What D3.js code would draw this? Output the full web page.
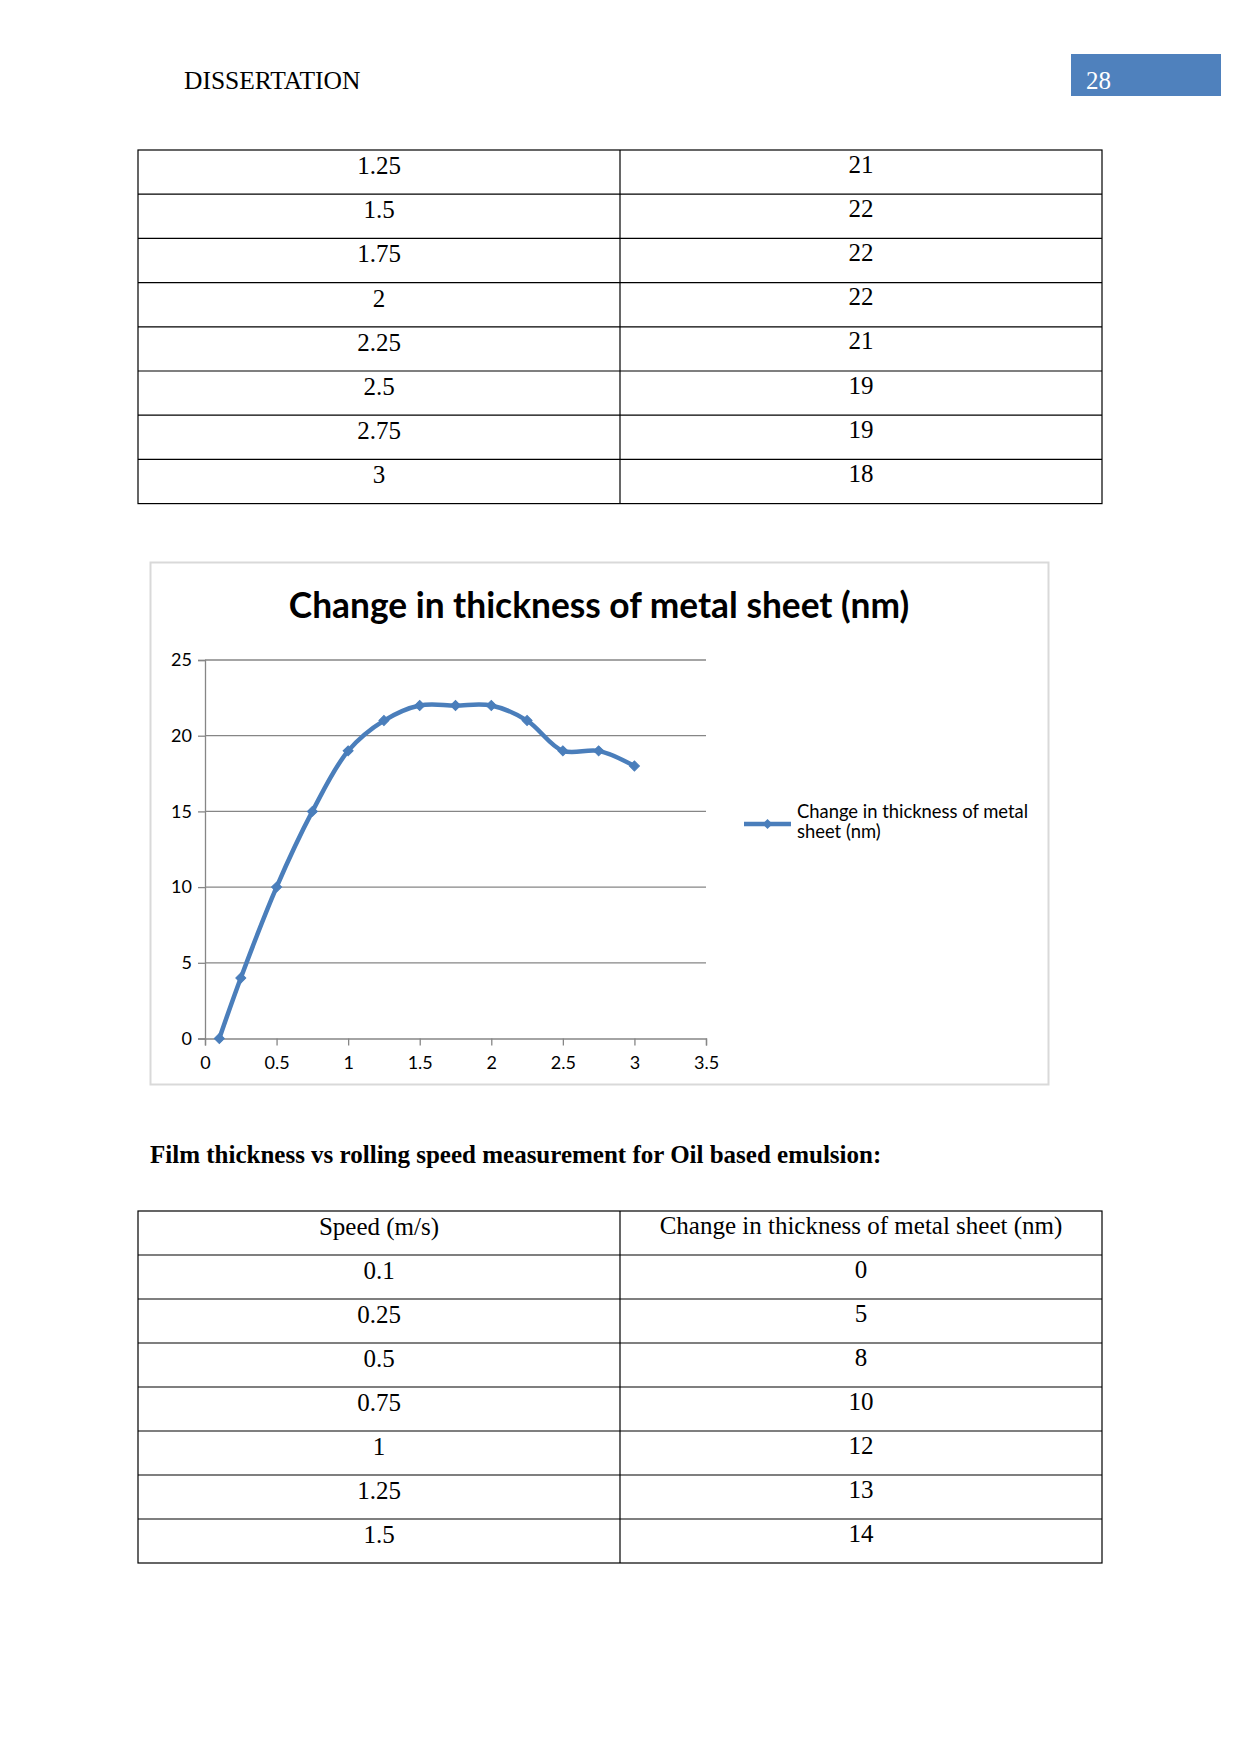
<!DOCTYPE html>
<html><head><meta charset="utf-8">
<script src="https://cdn.jsdelivr.net/npm/d3@7"></script>
<style>body{margin:0;background:#fff}svg{display:block}</style>
</head><body>
<script>
// ---- data ----
const headerLabel = "DISSERTATION";
const pageNumber = "28";
const topTableSpeeds = ["1.25","1.5","1.75","2","2.25","2.5","2.75","3"];
const topTableThickness = ["21","22","22","22","21","19","19","18"];
const chartTitle = "Change in thickness of metal sheet (nm)";
const seriesName = "Change in thickness of metal sheet (nm)";
const speedValues = [0.1,0.25,0.5,0.75,1,1.25,1.5,1.75,2,2.25,2.5,2.75,3];
const thicknessValues = [0,4,10,15,19,21,22,22,22,21,19,19,18];
const xTickValues = [0,0.5,1,1.5,2,2.5,3,3.5];
const yTickValues = [0,5,10,15,20,25];
const sectionHeading = "Film thickness vs rolling speed measurement for Oil based emulsion:";
const bottomHeader = ["Speed (m/s)","Change in thickness of metal sheet (nm)"];
const bottomSpeeds = ["0.1","0.25","0.5","0.75","1","1.25","1.5"];
const bottomThickness = ["0","5","8","10","12","13","14"];

const W = 1241, H = 1754;
const svg = d3.select("body").append("svg").attr("width", W).attr("height", H);
svg.append("rect").attr("width", W).attr("height", H).attr("fill", "#fff");

const serif = "'Liberation Serif','Times New Roman',serif";
const sans = "Lato,'Open Sans',sans-serif";
const blue = "#4a7ebb";

// header
svg.append("text").attr("x", 184).attr("y", 89).attr("font-family", serif)
  .attr("font-size", 25.5).attr("fill", "#000").text(headerLabel);
svg.append("rect").attr("x", 1071).attr("y", 54).attr("width", 150).attr("height", 42).attr("fill", "#4f81bd");
svg.append("text").attr("x", 1086).attr("y", 89).attr("font-family", serif)
  .attr("font-size", 25).attr("fill", "#fff").text(pageNumber);

// table helper
function drawTable(rows, x0, xm, x1, y0, rowH) {
  const g = svg.append("g");
  const n = rows.length;
  g.append("rect").attr("x", x0).attr("y", y0).attr("width", x1 - x0).attr("height", n * rowH)
    .attr("fill", "none").attr("stroke", "#000").attr("stroke-width", 1.2);
  g.append("line").attr("x1", xm).attr("x2", xm).attr("y1", y0).attr("y2", y0 + n * rowH)
    .attr("stroke", "#000").attr("stroke-width", 1.2);
  d3.range(1, n).forEach(i => {
    g.append("line").attr("x1", x0).attr("x2", x1).attr("y1", y0 + i * rowH).attr("y2", y0 + i * rowH)
      .attr("stroke", "#000").attr("stroke-width", 1.2);
  });
  rows.forEach((r, i) => {
    g.append("text").attr("x", (x0 + xm) / 2).attr("y", y0 + i * rowH + 24)
      .attr("text-anchor", "middle").attr("font-family", serif).attr("font-size", 25).text(r[0]);
    g.append("text").attr("x", (xm + x1) / 2).attr("y", y0 + i * rowH + 22.5)
      .attr("text-anchor", "middle").attr("font-family", serif).attr("font-size", 25).text(r[1]);
  });
}
drawTable(topTableSpeeds.map((s, i) => [s, topTableThickness[i]]), 138, 620, 1102, 150, 44.2);

// chart frame
svg.append("rect").attr("x", 150.5).attr("y", 562.5).attr("width", 898).attr("height", 522)
  .attr("fill", "#fff").attr("stroke", "#d9d9d9").attr("stroke-width", 2);
svg.append("text").attr("x", 599).attr("y", 618).attr("text-anchor", "middle")
  .attr("font-family", sans).attr("font-weight", "bold").attr("font-size", 35.3).attr("fill", "#000")
  .text(chartTitle);

const x = d3.scaleLinear().domain([0, 3.5]).range([205, 706]);
const y = d3.scaleLinear().domain([0, 25]).range([1038.5, 660]);
const grid = "#868686";

// gridlines
svg.append("g").selectAll("line").data(yTickValues.filter(v => v > 0)).join("line")
  .attr("x1", x(0)).attr("x2", x(3.5)).attr("y1", d => y(d)).attr("y2", d => y(d))
  .attr("stroke", grid).attr("stroke-width", 1.3);

const yAxis = svg.append("g").attr("transform", `translate(${x(0)},0)`)
  .call(d3.axisLeft(y).tickValues(yTickValues).tickSize(7).tickPadding(6).tickFormat(d3.format("d")));
const xAxis = svg.append("g").attr("transform", `translate(0,${y(0)})`)
  .call(d3.axisBottom(x).tickValues(xTickValues).tickSize(7).tickPadding(11).tickFormat(d => String(d)));
[yAxis, xAxis].forEach(a => {
  a.select(".domain").attr("stroke", grid).attr("stroke-width", 1.3);
  a.selectAll(".tick line").attr("stroke", grid).attr("stroke-width", 1.3);
  a.selectAll(".tick text").attr("font-family", sans).attr("font-size", 18).attr("fill", "#000");
});

// series
const pts = speedValues.map((s, i) => [s, thicknessValues[i]]);
svg.append("path").datum(pts)
  .attr("d", d3.line().x(d => x(d[0])).y(d => y(d[1])).curve(d3.curveCatmullRom.alpha(0.5)))
  .attr("fill", "none").attr("stroke", blue).attr("stroke-width", 4.5).attr("stroke-linejoin", "round");
const diamond = d3.symbol().type(d3.symbolSquare).size(50)();
svg.append("g").selectAll("path").data(pts).join("path")
  .attr("d", diamond)
  .attr("transform", d => `translate(${x(d[0])},${y(d[1])}) rotate(45)`)
  .attr("fill", blue).attr("stroke", blue).attr("stroke-width", 1);

// legend
svg.append("line").attr("x1", 744).attr("x2", 791).attr("y1", 824).attr("y2", 824)
  .attr("stroke", blue).attr("stroke-width", 4.5);
svg.append("path").attr("d", diamond).attr("transform", "translate(767.5,824) rotate(45)").attr("fill", blue);
const lt = svg.append("text").attr("font-family", sans).attr("font-size", 18.4).attr("fill", "#000");
lt.append("tspan").attr("x", 797).attr("y", 818).text("Change in thickness of metal");
lt.append("tspan").attr("x", 797).attr("y", 838).text("sheet (nm)");

// heading
svg.append("text").attr("x", 150).attr("y", 1163).attr("font-family", serif).attr("font-weight", "bold")
  .attr("font-size", 25).text(sectionHeading);

drawTable([bottomHeader].concat(bottomSpeeds.map((s, i) => [s, bottomThickness[i]])), 138, 620, 1102, 1211, 44.0);
</script>
</body></html>
